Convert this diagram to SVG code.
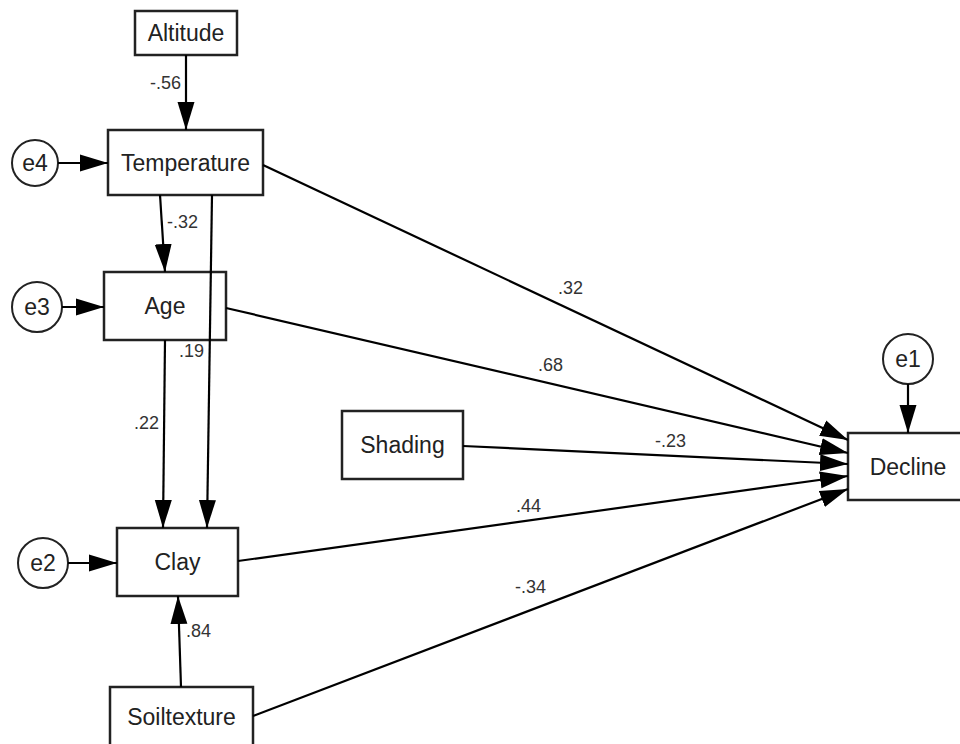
<svg xmlns="http://www.w3.org/2000/svg" width="960" height="744" viewBox="0 0 960 744">
<defs>
<marker id="ah" markerUnits="userSpaceOnUse" markerWidth="28" markerHeight="18" refX="28" refY="9" orient="auto">
<path d="M0,0.5 L28,9 L0,17.5 z" fill="#000"/>
</marker>
<style>
.box{fill:#fff;stroke:#222;stroke-width:2.5}
.circ{fill:#fff;stroke:#222;stroke-width:2}
.nt{font-family:"Liberation Sans",Arial,sans-serif;font-size:23px;fill:#222;text-anchor:middle}
.lb{font-family:"Liberation Sans",Arial,sans-serif;font-size:18px;fill:#333}
.cn line{stroke:#000;stroke-width:2.2;marker-end:url(#ah)}
</style>
</defs>
<rect width="960" height="744" fill="#fff"/>
<g id="altitude"><rect class="box" x="135" y="11" width="102" height="44"/><text class="nt" x="186" y="41">Altitude</text></g>
<g id="temperature"><rect class="box" x="108" y="130" width="155" height="65"/><text class="nt" x="185.5" y="171">Temperature</text></g>
<g id="age"><rect class="box" x="104" y="272" width="122" height="68"/><text class="nt" x="165" y="314">Age</text></g>
<g id="clay"><rect class="box" x="117" y="528" width="121" height="68"/><text class="nt" x="177.5" y="570">Clay</text></g>
<g id="soiltexture"><rect class="box" x="110" y="687" width="143" height="68"/><text class="nt" x="181.5" y="725">Soiltexture</text></g>
<g id="shading"><rect class="box" x="342" y="411" width="121" height="68"/><text class="nt" x="402.5" y="453">Shading</text></g>
<g id="decline"><rect class="box" x="848" y="433" width="122" height="67"/><text class="nt" x="908" y="475">Decline</text></g>
<g id="e4"><circle class="circ" cx="35" cy="163" r="23"/><text class="nt" x="35" y="171">e4</text></g>
<g id="e3"><circle class="circ" cx="37" cy="307" r="25"/><text class="nt" x="37" y="315">e3</text></g>
<g id="e2"><circle class="circ" cx="43" cy="563" r="25"/><text class="nt" x="43" y="571">e2</text></g>
<g id="e1"><circle class="circ" cx="908" cy="359" r="25"/><text class="nt" x="908" y="367">e1</text></g>
<g class="cn" id="connectors">
<line x1="186" y1="55" x2="186" y2="130"/>
<line x1="58" y1="163" x2="108" y2="163"/>
<line x1="160" y1="195" x2="165" y2="272"/>
<line x1="212" y1="195" x2="207" y2="528"/>
<line x1="62" y1="307" x2="104" y2="307"/>
<line x1="165" y1="340" x2="163" y2="528"/>
<line x1="68" y1="563" x2="117" y2="563"/>
<line x1="181" y1="687" x2="178" y2="596"/>
<line x1="908" y1="384" x2="908" y2="433"/>
<line x1="263" y1="165" x2="848" y2="440"/>
<line x1="226" y1="308" x2="848" y2="453"/>
<line x1="463" y1="446" x2="848" y2="464"/>
<line x1="238" y1="561" x2="848" y2="476"/>
<line x1="253" y1="716" x2="848" y2="489"/>
</g>
<g id="labels">
<text class="lb" x="181" y="89" text-anchor="end">-.56</text>
<text class="lb" x="167" y="228">-.32</text>
<text class="lb" x="179" y="357">.19</text>
<text class="lb" x="159" y="429" text-anchor="end">.22</text>
<text class="lb" x="186" y="637">.84</text>
<text class="lb" x="558" y="294">.32</text>
<text class="lb" x="538" y="371">.68</text>
<text class="lb" x="655" y="447">-.23</text>
<text class="lb" x="516" y="512">.44</text>
<text class="lb" x="515" y="593">-.34</text>
</g>
</svg>
